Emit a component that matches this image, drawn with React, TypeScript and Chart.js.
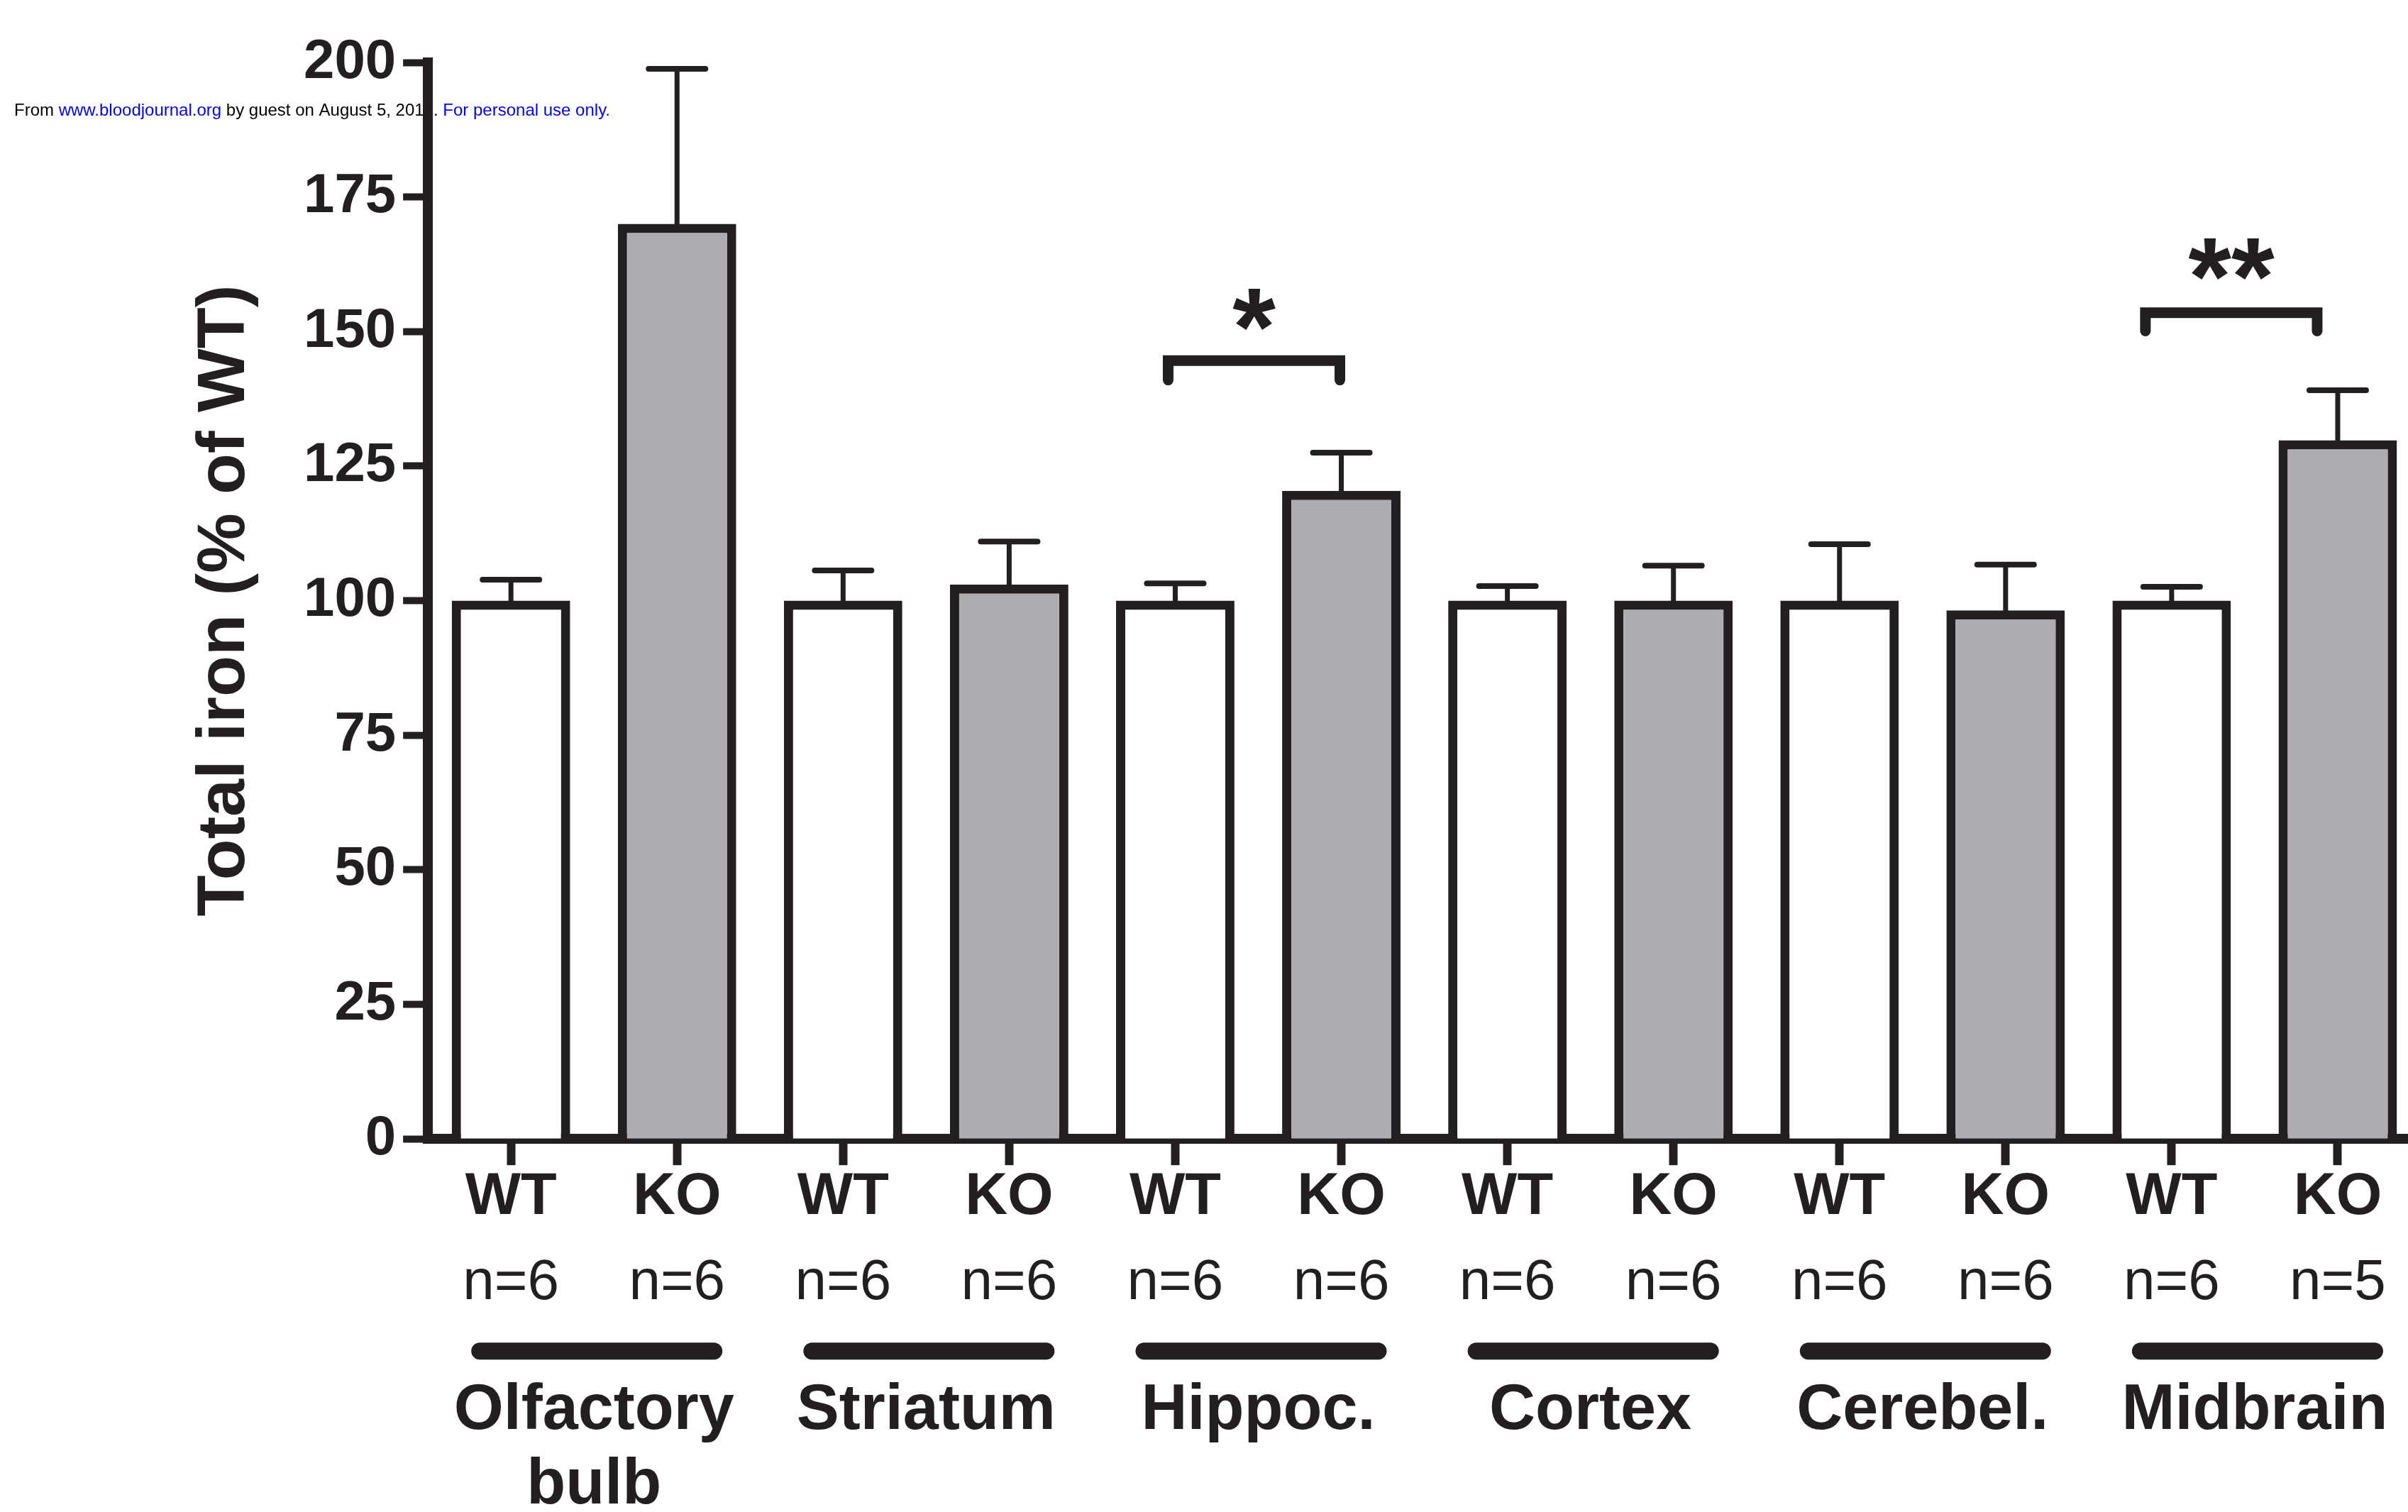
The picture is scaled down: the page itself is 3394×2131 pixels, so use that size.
import { useEffect, useRef } from "react";
import { Chart, registerables } from "chart.js";

Chart.register(...registerables);

// ---------- data ----------
const groupLabels = ["WT", "KO", "WT", "KO", "WT", "KO", "WT", "KO", "WT", "KO", "WT", "KO"];
const sampleSizes = ["n=6", "n=6", "n=6", "n=6", "n=6", "n=6", "n=6", "n=6", "n=6", "n=6", "n=6", "n=5"];
const regionLabels: (string | string[])[] = [["Olfactory", "bulb"], "Striatum", "Hippoc.", "Cortex", "Cerebel.", "Midbrain"];
const meanValues = [100, 170, 100, 103, 100, 120.4, 100, 100, 100, 98.2, 100, 129.8];
const semValues = [3.9, 28.8, 5.6, 8.0, 3.2, 7.1, 2.7, 6.5, 10.5, 8.5, 2.6, 9.3];
const yTickStep = 25;
const yMin = 0;
const yMax = 200;
const yTitle = "Total iron (% of WT)";
// significance: bar index from/to, bracket height (value units), leg length, marker
const sigFrom = [4, 10];
const sigTo = [5, 11];
const sigHeight = [144.6, 153.5];
const sigLeg = [3.6, 3.4];
const sigMarks = ["*", "**"];
const stampParts = ["From ", "www.bloodjournal.org", " by guest on August 5, 2017. ", "For personal use only."];

// ---------- styles ----------
const FONT = "'Liberation Sans', Arial, Helvetica, sans-serif";
const INK = "#231f20";
const WT_FILL = "#ffffff";
const KO_FILL = "#adadb1";
const stampColors = ["#000000", "#0000ff", "#000000", "#0000ff"];
// bracket leg pixel offsets from the bar centres (left leg, right leg)
const sigLegShift = [
  [-10, -2],
  [-37, -29],
];
const sigStarGap = [72, 76];
const STAR_SIZE = 156;

const errorBarsPlugin = {
  id: "errorBars",
  afterDatasetsDraw(chart: any) {
    const ctx = chart.ctx;
    const meta = chart.getDatasetMeta(0);
    const y = chart.scales.y;
    ctx.save();
    ctx.strokeStyle = INK;
    meta.data.forEach((bar: any, i: number) => {
      const x = bar.x;
      const yBase = y.getPixelForValue(meanValues[i]);
      const yTop = y.getPixelForValue(meanValues[i] + semValues[i]);
      ctx.lineCap = "butt";
      ctx.lineWidth = 7;
      ctx.beginPath();
      ctx.moveTo(x, yBase + 6);
      ctx.lineTo(x, yTop);
      ctx.stroke();
      ctx.lineCap = "round";
      ctx.lineWidth = 8;
      ctx.beginPath();
      ctx.moveTo(x - 40, yTop);
      ctx.lineTo(x + 40, yTop);
      ctx.stroke();
    });
    ctx.restore();
  },
};

const annotationsPlugin = {
  id: "annotations",
  beforeDraw(chart: any) {
    const ctx = chart.ctx;
    ctx.save();
    ctx.font = `24px ${FONT}`;
    ctx.textBaseline = "alphabetic";
    ctx.textAlign = "left";
    let x = 20;
    stampParts.forEach((t, i) => {
      ctx.fillStyle = stampColors[i];
      ctx.fillText(t, x, 163);
      x += ctx.measureText(t).width;
    });
    ctx.restore();
  },
  afterDraw(chart: any) {
    const ctx = chart.ctx;
    const meta = chart.getDatasetMeta(0);
    const y = chart.scales.y;
    const xR = chart.scales.xR;
    ctx.save();
    // region underline bars
    ctx.strokeStyle = INK;
    ctx.lineCap = "round";
    ctx.lineWidth = 24;
    const yLine = xR.top + 19;
    regionLabels.forEach((_, i) => {
      const c = xR.getPixelForValue(i) + 4;
      ctx.beginPath();
      ctx.moveTo(c - 165, yLine);
      ctx.lineTo(c + 165, yLine);
      ctx.stroke();
    });
    // significance brackets
    ctx.lineWidth = 15;
    ctx.lineJoin = "miter";
    ctx.fillStyle = INK;
    ctx.font = `bold ${STAR_SIZE}px ${FONT}`;
    ctx.textAlign = "center";
    ctx.textBaseline = "alphabetic";
    sigFrom.forEach((from, k) => {
      const xl = meta.data[from].x + sigLegShift[k][0];
      const xr = meta.data[sigTo[k]].x + sigLegShift[k][1];
      const yT = y.getPixelForValue(sigHeight[k]);
      const yL = y.getPixelForValue(sigHeight[k] - sigLeg[k]);
      ctx.beginPath();
      ctx.moveTo(xl, yL);
      ctx.lineTo(xl, yT);
      ctx.lineTo(xr, yT);
      ctx.lineTo(xr, yL);
      ctx.stroke();
      ctx.fillText(sigMarks[k], (xl + xr) / 2, yT - sigStarGap[k] + 0.5 * STAR_SIZE);
    });
    ctx.restore();
  },
};

export default function App() {
  const ref = useRef<HTMLCanvasElement | null>(null);
  useEffect(() => {
    if (!ref.current) return;
    const chart = new Chart(ref.current, {
      type: "bar",
      data: {
        labels: groupLabels,
        datasets: [
          {
            data: meanValues,
            xAxisID: "x",
            yAxisID: "y",
            backgroundColor: groupLabels.map((g) => (g === "WT" ? WT_FILL : KO_FILL)),
            borderColor: INK,
            borderWidth: 13,
            borderSkipped: "start",
            barPercentage: 0.713,
            categoryPercentage: 1,
          },
        ],
      },
      options: {
        responsive: false,
        animation: false,
        devicePixelRatio: 1,
        layout: { padding: { left: 261, right: 8, top: 88, bottom: 0 } },
        plugins: { legend: { display: false }, tooltip: { enabled: false }, title: { display: false } },
        scales: {
          x: {
            type: "category",
            position: "bottom",
            offset: true,
            grid: {
              display: true,
              drawOnChartArea: false,
              offset: false,
              drawTicks: true,
              tickLength: 37,
              tickWidth: 12,
              tickColor: INK,
            },
            border: { display: true, width: 14, color: INK },
            ticks: {
              color: INK,
              font: { family: FONT, size: 83, weight: "bold", lineHeight: 1 },
              padding: 4,
              autoSkip: false,
              maxRotation: 0,
              minRotation: 0,
            },
          },
          xN: {
            type: "category",
            position: "bottom",
            labels: sampleSizes,
            offset: true,
            grid: { display: false, drawTicks: false, tickLength: 0 },
            border: { display: false },
            ticks: {
              color: INK,
              font: { family: FONT, size: 80, weight: "normal", lineHeight: 1 },
              padding: 36,
              autoSkip: false,
              maxRotation: 0,
              minRotation: 0,
            },
          },
          xR: {
            type: "category",
            position: "bottom",
            labels: regionLabels as any,
            offset: true,
            grid: { display: false, drawTicks: false, tickLength: 0 },
            border: { display: false },
            ticks: {
              color: INK,
              font: { family: FONT, size: 90, weight: "bold", lineHeight: 1.16 },
              padding: 52,
              autoSkip: false,
              maxRotation: 0,
              minRotation: 0,
            },
          },
          y: {
            type: "linear",
            position: "left",
            min: yMin,
            max: yMax,
            grid: {
              display: true,
              drawOnChartArea: false,
              drawTicks: true,
              tickLength: 35,
              tickWidth: 10,
              tickColor: INK,
            },
            border: { display: true, width: 14, color: INK },
            ticks: {
              stepSize: yTickStep,
              color: INK,
              font: { family: FONT, size: 78, weight: "bold" },
              padding: 10,
            },
            title: {
              display: true,
              text: yTitle,
              color: INK,
              font: { family: FONT, size: 95, weight: "bold", lineHeight: 1.2 },
              padding: { top: 0, bottom: 43 },
            },
          },
        },
      },
      plugins: [errorBarsPlugin, annotationsPlugin],
    } as any);
    return () => chart.destroy();
  }, []);
  return (
    <div
      style={{
        position: "fixed",
        left: 0,
        top: 0,
        width: "3394px",
        height: "2131px",
        overflow: "hidden",
        background: "#ffffff",
      }}
    >
      <canvas ref={ref} width={3420} height={2198} style={{ display: "block" }} />
    </div>
  );
}
